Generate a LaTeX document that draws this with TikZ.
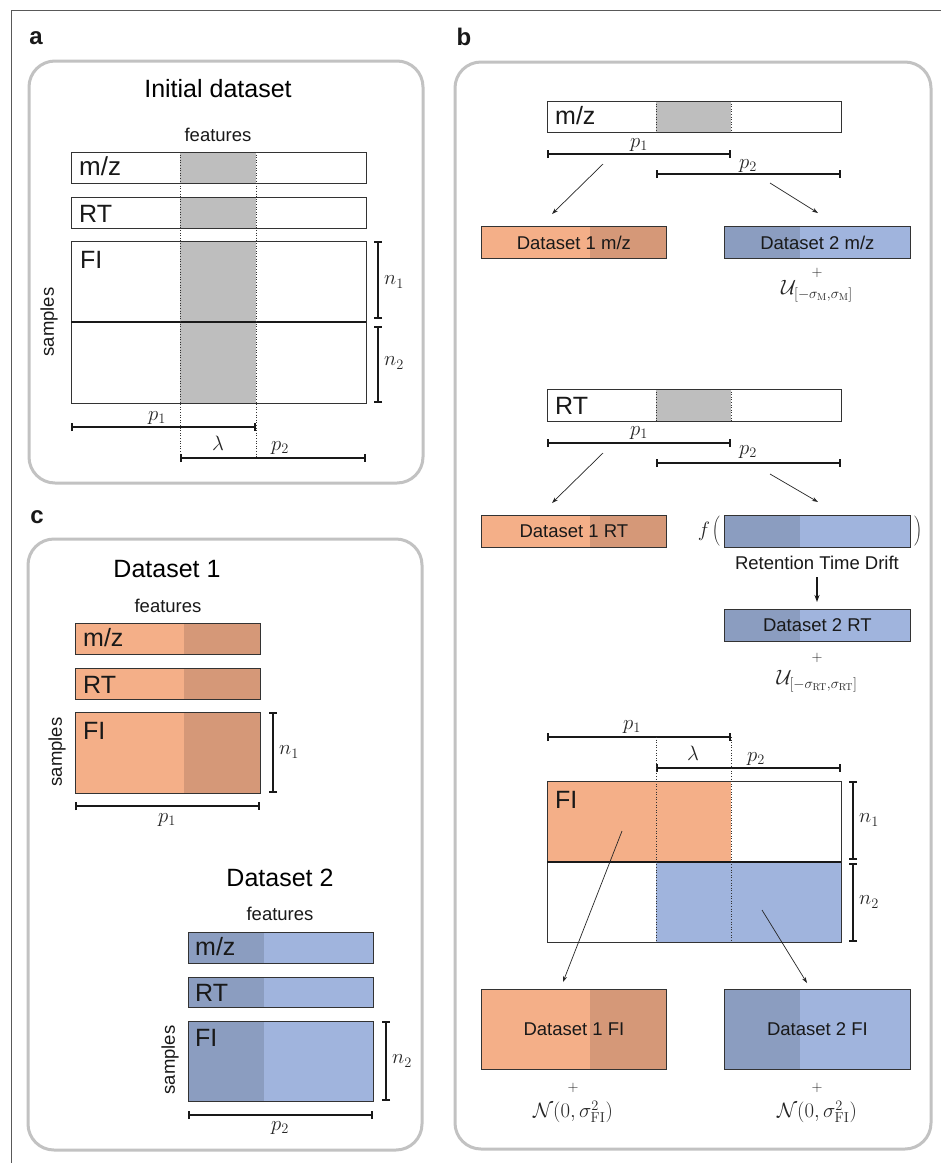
\documentclass[tikz,border=0pt]{standalone}
\usepackage[no-math]{fontspec}
\setmainfont{Liberation Sans}
\usetikzlibrary{arrows.meta}
\definecolor{orL}{HTML}{F4AF88}
\definecolor{orD}{HTML}{D59878}
\definecolor{blL}{HTML}{A0B4DD}
\definecolor{blD}{HTML}{8B9DC0}
\definecolor{grF}{HTML}{BEBEBE}
\definecolor{panelc}{HTML}{C2C2C2}
\definecolor{boxc}{HTML}{333333}
\newcommand\fsTitle{\fontsize{25}{30}\selectfont}
\newcommand\fsLab{\fontsize{25}{30}\selectfont}
\newcommand\fsLabA{\fontsize{26}{30}\selectfont}
\newcommand\fsMid{\fontsize{18.5}{22}\selectfont}
\newcommand\fsMath{\fontsize{20}{24}\selectfont}
\newcommand\fsPlus{\fontsize{15}{18}\selectfont}
\newcommand\fsPanel{\fontsize{24}{28}\selectfont\bfseries}
\begin{document}
\begin{tikzpicture}[x=1pt,y=-1pt,
  box/.style={draw=boxc, line width=0.8pt, inner sep=0pt, anchor=north west},
  panel/.style={draw=panelc, line width=3pt, rounded corners=26pt},
  dimbar/.style={line width=1.6pt, draw=black!90, {Bar[width=8pt]}-{Bar[width=8pt]}},
  dots/.style={dotted, line width=0.6pt, draw=black!80},
  arr/.style={line width=0.7pt, draw=black!85, -{Stealth[length=6pt,width=4pt]}},
  tit/.style={font=\fsTitle, inner sep=0pt, anchor=base},
  lab/.style={font=\fsLab, inner sep=0pt, anchor=base west, text=black!90},
  mid/.style={font=\fsMid, inner sep=0pt, text=black!90},
  mth/.style={font=\fsMath, inner sep=0pt, text=black!85},
  plus/.style={font=\fsPlus, inner sep=0pt, text=black!85},
  plab/.style={font=\fsPanel, inner sep=0pt, text=black!90},
]
\useasboundingbox (0,0) rectangle (941,1163);
\fill[white] (0,0) rectangle (941,1163);
% outer frame
\draw[line width=0.8pt, draw=black!65] (11,1163) -- (11,10) -- (941,10);
% panel labels
\node[plab] (la) at (36,38) {a};
\node[plab] (lb) at (464,37) {b};
\node[plab] (lc) at (37,517) {c};
% panels
\draw[panel] (29,61) rectangle (423,483);
\draw[panel] (455,62) rectangle (931,1149);
\draw[panel] (28,539) rectangle (422,1150);

% ---------------- panel a
\node[tit] (atitle) at (218,97) {Initial dataset};
\node[mid, anchor=base] (afeat) at (218,141) {features};
\fill[grF] (180,152) rectangle (256,183);
\fill[grF] (180,197) rectangle (256,228);
\fill[grF] (180,241) rectangle (256,403);
\node[box, minimum width=295pt, minimum height=31pt] (amz) at (71,152) {};
\node[box, minimum width=295pt, minimum height=31pt] (art) at (71,197) {};
\node[box, minimum width=295pt, minimum height=162pt] (afi) at (71,241) {};
\draw[line width=1.5pt, draw=black!90] (71,322) -- (366,322);
\draw[dots] (180,152) -- (180,458);
\draw[dots] (256,152) -- (256,458);
\node[lab, font=\fsLabA] (amzl) at (79,175) {m/z};
\node[lab] (artl) at (79,222) {RT};
\node[lab] (afil) at (80,268) {FI};
\node[mid, rotate=90] (asmp) at (49,322) {samples};
\draw[dimbar] (378,241) -- (378,319);
\draw[dimbar] (378,326) -- (378,403);
\node[mth] (an1) at (394,282) {$n_1$};
\node[mth] (an2) at (394,363) {$n_2$};
\draw[dimbar] (71,427) -- (256,427);
\node[mth] (ap1) at (157,418) {$p_1$};
\draw[dimbar] (180,458) -- (366,458);
\node[mth] (ap2) at (280,448) {$p_2$};
\node[mth] (alam) at (218,443) {$\lambda$};

% ---------------- panel b : m/z
\fill[grF] (656,101) rectangle (731,132);
\node[box, minimum width=294pt, minimum height=31pt] (bmz) at (547,101) {};
\draw[dots] (656,101) -- (656,132);
\draw[dots] (731,101) -- (731,132);
\node[lab] (bmzl) at (555,124) {m/z};
\draw[dimbar] (547,154) -- (731,154);
\node[mth] (bp1a) at (639,145) {$p_1$};
\draw[dimbar] (656,174) -- (841,174);
\node[mth] (bp2a) at (748,166) {$p_2$};
\coordinate (mzA) at (603,164);
\coordinate (mzB) at (770,183);
\coordinate (mzAe) at (552,214);
\coordinate (mzBe) at (818,213);
\fill[orL] (481,226) rectangle (590,258);
\fill[orD] (590,226) rectangle (666,258);
\node[box, minimum width=185pt, minimum height=32pt, font=\fsMid, text=black!90] (d1mz) at (481,226) {Dataset 1 m/z};
\fill[blD] (724,226) rectangle (800,258);
\fill[blL] (800,226) rectangle (910,258);
\node[box, minimum width=186pt, minimum height=32pt, font=\fsMid, text=black!90] (d2mz) at (724,226) {Dataset 2 m/z};
\draw[arr] (mzA) -- (mzAe);
\draw[arr] (mzB) -- (mzBe);
\node[plus] (bplus1) at (817,273) {$+$};
\node[mth] (bu1) at (817,291) {$\mathcal{U}_{[-\sigma_{\mathrm{M}},\sigma_{\mathrm{M}}]}$};

% ---------------- panel b : RT
\fill[grF] (656,389) rectangle (731,421);
\node[box, minimum width=294pt, minimum height=32pt] (brt) at (547,389) {};
\draw[dots] (656,389) -- (656,421);
\draw[dots] (731,389) -- (731,421);
\node[lab] (brtl) at (555,414) {RT};
\draw[dimbar] (547,443) -- (731,443);
\node[mth] (bp1b) at (639,433) {$p_1$};
\draw[dimbar] (656,463) -- (841,463);
\node[mth] (bp2b) at (748,452) {$p_2$};
\coordinate (rtA) at (603,453);
\coordinate (rtB) at (770,474);
\coordinate (rtAe) at (552,503);
\coordinate (rtBe) at (818,502);
\fill[orL] (481,515) rectangle (590,547);
\fill[orD] (590,515) rectangle (666,547);
\node[box, minimum width=185pt, minimum height=32pt, font=\fsMid, text=black!90] (d1rt) at (481,515) {Dataset 1 RT};
\fill[blD] (724,515) rectangle (800,547);
\fill[blL] (800,515) rectangle (910,547);
\node[box, minimum width=186pt, minimum height=32pt] (drift) at (724,515) {};
\draw[arr] (rtA) -- (rtAe);
\draw[arr] (rtB) -- (rtBe);
\node[mth] (ff) at (704,531) {$f$};
\node[mth] (lpar) at (716,531) {$\nulldelimiterspace=0pt\left(\vcenter to 32pt{}\right.$};
\node[mth] (rpar) at (918,531) {$\nulldelimiterspace=0pt\left.\vcenter to 32pt{}\right)$};
\node[mid] (rtd) at (817,563) {Retention Time Drift};
\fill[blD] (724,609) rectangle (800,641);
\fill[blL] (800,609) rectangle (910,641);
\node[box, minimum width=186pt, minimum height=32pt, font=\fsMid, text=black!90] (d2rt) at (724,609) {Dataset 2 RT};
\draw[line width=1.3pt, draw=black!90, -{Stealth[length=7pt,width=5pt]}, shorten <=7pt, shorten >=7pt] (rtd) -- (d2rt.north -| rtd);
\node[plus] (bplus2) at (817,658) {$+$};
\node[mth] (bu2) at (817,681) {$\mathcal{U}_{[-\sigma_{\mathrm{RT}},\sigma_{\mathrm{RT}}]}$};

% ---------------- panel b : FI
\draw[dimbar] (547,737) -- (731,737);
\node[mth] (bp1c) at (632,727) {$p_1$};
\draw[dimbar] (656,768) -- (841,768);
\node[mth] (bp2c) at (756,759) {$p_2$};
\node[mth] (blam) at (693,753) {$\lambda$};
\fill[orL] (547,781) rectangle (731,862);
\fill[blL] (656,862) rectangle (841,942);
\node[box, minimum width=294pt, minimum height=161pt] (bfi) at (547,781) {};
\draw[line width=1.5pt, draw=black!90] (547,862) -- (841,862);
\draw[dots] (656,737) -- (656,942);
\draw[dots] (731,737) -- (731,942);
\node[lab] (bfil) at (555,808) {FI};
\draw[dimbar] (853,781) -- (853,860);
\draw[dimbar] (853,863) -- (853,942);
\node[mth] (bn1) at (869,820) {$n_1$};
\node[mth] (bn2) at (869,902) {$n_2$};
\coordinate (fiA) at (622,831);
\coordinate (fiB) at (762,910);
\coordinate (fiAe) at (563,982);
\coordinate (fiBe) at (807,983);
\fill[orL] (481,989) rectangle (590,1069);
\fill[orD] (590,989) rectangle (666,1069);
\node[box, minimum width=185pt, minimum height=80pt, font=\fsMid, text=black!90] (d1fi) at (481,989) {Dataset 1 FI};
\fill[blD] (724,989) rectangle (800,1069);
\fill[blL] (800,989) rectangle (910,1069);
\node[box, minimum width=186pt, minimum height=80pt, font=\fsMid, text=black!90] (d2fi) at (724,989) {Dataset 2 FI};
\draw[arr] (fiA) -- (fiAe);
\draw[arr] (fiB) -- (fiBe);
\node[plus] (bplus3) at (573,1088) {$+$};
\node[mth] (bnorm1) at (573,1112) {$\mathcal{N}(0,\sigma^2_{\mathrm{FI}})$};
\node[plus] (bplus4) at (817,1088) {$+$};
\node[mth] (bnorm2) at (817,1112) {$\mathcal{N}(0,\sigma^2_{\mathrm{FI}})$};

% ---------------- panel c : Dataset 1
\node[tit] (c1title) at (167,577) {Dataset 1};
\node[mid, anchor=base] (c1feat) at (168,612) {features};
\fill[orL] (75,623) rectangle (184,654);
\fill[orD] (184,623) rectangle (260,654);
\node[box, minimum width=185pt, minimum height=31pt] (c1mz) at (75,623) {};
\fill[orL] (75,668) rectangle (184,699);
\fill[orD] (184,668) rectangle (260,699);
\node[box, minimum width=185pt, minimum height=31pt] (c1rt) at (75,668) {};
\fill[orL] (75,712) rectangle (184,793);
\fill[orD] (184,712) rectangle (260,793);
\node[box, minimum width=185pt, minimum height=81pt] (c1fi) at (75,712) {};
\node[lab] (c1mzl) at (83,646) {m/z};
\node[lab] (c1rtl) at (83,693) {RT};
\node[lab] (c1fil) at (83,739) {FI};
\draw[dimbar] (273,712) -- (273,793);
\node[mth] (c1n1) at (289,752) {$n_1$};
\draw[dimbar] (75,806) -- (260,806);
\node[mth] (c1p1) at (167,820) {$p_1$};
\node[mid, rotate=90] (c1smp) at (57,752) {samples};

% ---------------- panel c : Dataset 2
\node[tit] (c2title) at (280,886) {Dataset 2};
\node[mid, anchor=base] (c2feat) at (280,920) {features};
\fill[blD] (188,932) rectangle (264,963);
\fill[blL] (264,932) rectangle (373,963);
\node[box, minimum width=185pt, minimum height=31pt] (c2mz) at (188,932) {};
\fill[blD] (188,977) rectangle (264,1007);
\fill[blL] (264,977) rectangle (373,1007);
\node[box, minimum width=185pt, minimum height=30pt] (c2rt) at (188,977) {};
\fill[blD] (188,1021) rectangle (264,1101);
\fill[blL] (264,1021) rectangle (373,1101);
\node[box, minimum width=185pt, minimum height=80pt] (c2fi) at (188,1021) {};
\node[lab] (c2mzl) at (195,955) {m/z};
\node[lab] (c2rtl) at (195,1001) {RT};
\node[lab] (c2fil) at (195,1046) {FI};
\draw[dimbar] (386,1021) -- (386,1101);
\node[mth] (c2n2) at (402,1061) {$n_2$};
\draw[dimbar] (188,1115) -- (373,1115);
\node[mth] (c2p2) at (280,1128) {$p_2$};
\node[mid, rotate=90] (c2smp) at (170,1060) {samples};
\end{tikzpicture}
\end{document}
